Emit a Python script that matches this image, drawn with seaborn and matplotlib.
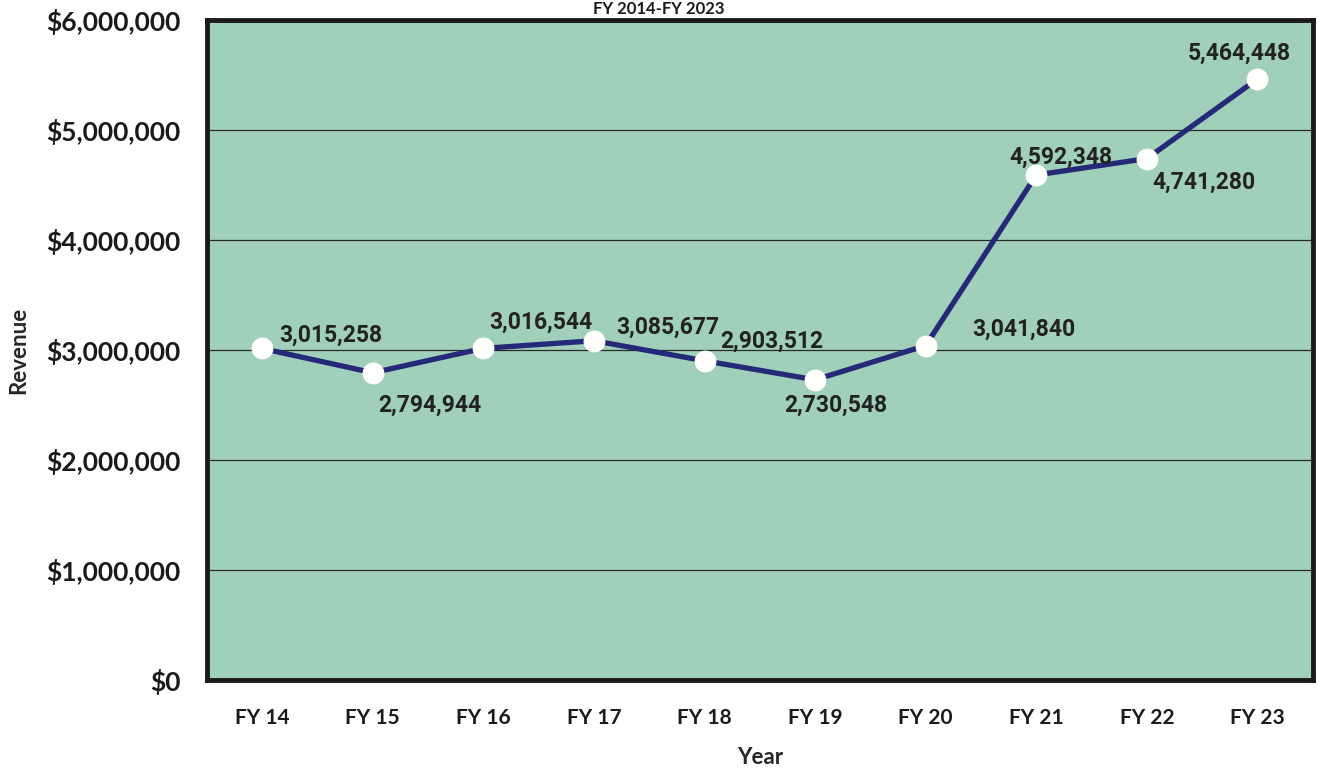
import numpy as np
import pandas as pd
import matplotlib.pyplot as plt
import seaborn as sns
from matplotlib.ticker import FuncFormatter, FixedLocator

# data
years = ["FY 14", "FY 15", "FY 16", "FY 17", "FY 18", "FY 19", "FY 20", "FY 21", "FY 22", "FY 23"]
revenue = [3015258, 2794944, 3016544, 3085677, 2903512, 2730548, 3041840, 4592348, 4741280, 5464448]

# where each value label sits relative to its point (pixels), and alignment
label_offsets = [(17, 13, "left"), (57, -33, "center"), (57, 26, "center"), (22, 13, "left"),
                 (16, 20, "left"), (21, -25, "center"), (47, 16, "left"), (-27, 18, "left"),
                 (5, -24, "left"), (-18, 26, "center")]

sns.set_style("white")
plt.rcParams["font.family"] = ["Lato", "DejaVu Sans"]

df = pd.DataFrame({"Year": years, "Revenue": revenue})
df["x"] = np.arange(len(df))

fig = plt.figure(figsize=(13.18, 7.73), dpi=100)
ax = fig.add_axes([0.157, 0.12, 0.839, 0.854])
ax.set_facecolor("#A0CFBA")

sns.lineplot(data=df, x="x", y="Revenue", ax=ax, color="#262878", linewidth=3.8,
             marker="o", markersize=15, markerfacecolor="white", markeredgecolor="white", zorder=3)

ax.set_xlim(-0.5, len(years) - 0.5)
ax.set_ylim(0, 6000000)
ax.yaxis.set_major_locator(FixedLocator(np.arange(0, 6000001, 1000000)))
ax.yaxis.set_major_formatter(FuncFormatter(lambda v, p: "${:,.0f}".format(v)))
ax.grid(axis="y", color="#2a2a2a", linewidth=0.9)
ax.set_axisbelow(True)

# category labels centred, tick marks between categories
ax.set_xticks(df["x"])
ax.set_xticklabels(years)
ax.set_xticks(np.arange(-0.5, len(years)), minor=True)
ax.tick_params(axis="x", which="major", length=0, pad=20, labelsize=15)
ax.tick_params(axis="x", which="minor", length=9, width=1, color="#555555", direction="out")
ax.tick_params(axis="y", length=9, width=1, color="#555555", direction="out", pad=10, labelsize=19)
for t in ax.get_xticklabels() + ax.get_yticklabels():
    t.set_fontweight("bold")
    t.set_color("#1a1a1a")

for s in ax.spines.values():
    s.set_linewidth(3.5)
    s.set_color("#1a1a1a")

ax.set_xlabel("Year", fontsize=16, fontweight="bold", labelpad=14)
ax.set_ylabel("Revenue", fontsize=16, fontweight="bold", labelpad=12)

for i, (dx, dy, ha) in enumerate(label_offsets):
    ax.annotate("{:,}".format(revenue[i]), (df["x"][i], revenue[i]), xytext=(dx, dy),
                textcoords="offset pixels", ha=ha, va="center", fontsize=16.5, fontweight="bold",
                family=["Liberation Sans Narrow", "Roboto", "DejaVu Sans"], color="#222222",
                fontstretch="condensed")

# title squeezed into the strip above the plot
fig.text(0.5, 0.999, "FY 2014-FY 2023", ha="center", va="top", fontsize=12, fontweight="bold",
         color="#1a1a1a")

fig.savefig("out.png", dpi=100)
